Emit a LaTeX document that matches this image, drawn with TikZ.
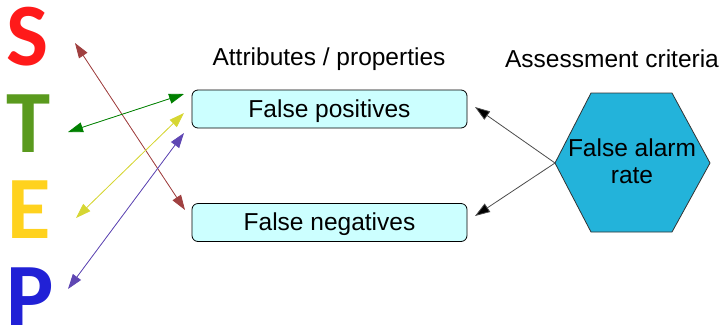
\documentclass[tikz,border=0pt]{standalone}
\usepackage{fontspec}
\setmainfont{Liberation Sans}
\newfontfamily\stepfont{Carlito}
\usetikzlibrary{arrows.meta}
\definecolor{sred}{HTML}{FF1A1A}
\definecolor{tgreen}{HTML}{5A9A1E}
\definecolor{eyellow}{HTML}{FFD21E}
\definecolor{pblue}{HTML}{2121D6}
\definecolor{boxfill}{HTML}{CCFFFF}
\definecolor{hexfill}{HTML}{23B3DA}
\definecolor{arred}{HTML}{800000}
\definecolor{argreen}{HTML}{008000}
\definecolor{aryellow}{HTML}{CCCC00}
\definecolor{arblue}{HTML}{2A0A9A}
\tikzset{
  letter/.style={font=\stepfont\bfseries\fontsize{89}{89}\selectfont, anchor=base, inner sep=0pt},
  attrbox/.style={draw=black, line width=0.8pt, fill=boxfill, rounded corners=6pt, minimum width=275pt, minimum height=38pt, inner sep=0pt},
  lbl/.style={font=\fontsize{24.5}{27}\selectfont, inner sep=0pt},
  dblarrow/.style={line width=0.8pt, {Triangle[length=15pt,width=10pt]}-{Triangle[length=15pt,width=10pt]}},
  onearrow/.style={draw=black!70, line width=0.8pt, -{Triangle[length=15pt,width=10pt,fill=black]}},
}
\begin{document}
\begin{tikzpicture}[x=1pt,y=-1pt]
\useasboundingbox (0,0) rectangle (725,325);
% STEP letters
\node[letter, text=sred] (S) at (28,65.5) {S};
\node[letter, text=tgreen] (T) at (29,152) {T};
\node[letter, text=eyellow] (E) at (29,238) {E};
\node[letter, text=pblue] (P) at (30,325) {P};
% headings
\node[lbl, anchor=base] (h1) at (329,65) {Attributes / properties};
\node[lbl, anchor=base] (h2) at (612,67) {Assessment criteria};
% boxes
\node[attrbox] (fp) at (329.5,109) {};
\node[lbl, anchor=base] (fpt) at (329.5,117) {False positives};
\node[attrbox] (fn) at (329.5,222.5) {};
\node[lbl, anchor=base] (fnt) at (329.5,230) {False negatives};
% hexagon
\coordinate (hL) at (555,163);
\coordinate (hR) at (710,163);
\draw[fill=hexfill, draw=black!80, line width=0.8pt]
  (hL) -- (591,93) -- (672,93) -- (hR) -- (672,232) -- (591,232) -- cycle;
\node[lbl, align=center, anchor=center] (hex) at (632,161) {False alarm\\rate};
% arrow end coordinates
\coordinate (sA) at (75,43);  \coordinate (sB) at (185,210);
\coordinate (tA) at (68,132); \coordinate (tB) at (184,94);
\coordinate (eA) at (76,218); \coordinate (eB) at (184,113);
\coordinate (pA) at (68,289); \coordinate (pB) at (184,133);
\coordinate (fpE) at (475,107);
\coordinate (fnE) at (475,216);
% STEP arrows
\draw[dblarrow, draw=arred!75, fill=arred] (sA) -- (sB);
\draw[dblarrow, draw=argreen, fill=argreen] (tA) -- (tB);
\draw[dblarrow, draw=aryellow!80, fill=aryellow] (eA) -- (eB);
\draw[dblarrow, draw=arblue!75, fill=arblue] (pA) -- (pB);
% hexagon arrows
\draw[onearrow] (hL) -- (fpE);
\draw[onearrow] (hL) -- (fnE);
\end{tikzpicture}
\end{document}
